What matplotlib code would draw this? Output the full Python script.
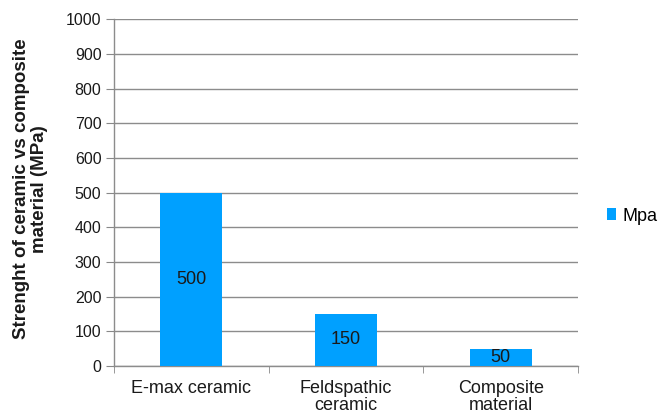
import matplotlib
matplotlib.use("Agg")
import matplotlib.pyplot as plt
from matplotlib.patches import Patch

categories = ["E-max ceramic", "Feldspathic\nceramic", "Composite\nmaterial"]
values = [500, 150, 50]
series_name = "Mpa"
yticks = list(range(0, 1001, 100))

plt.rcParams['font.family'] = ['Liberation Sans', 'DejaVu Sans']

fig = plt.figure(figsize=(6.7, 4.17), dpi=100)
ax = fig.add_axes([0.170, 0.1223, 0.693, 0.8317])

bar_color = '#00A0FF'
x = list(range(len(categories)))
bars = ax.bar(x, values, width=0.4, color=bar_color, zorder=3)
for xi, v in zip(x, values):
    ax.text(xi, v / 2, str(v), ha='center', va='center', fontsize=13, color='#1a1a1a', zorder=4)

ax.set_xlim(-0.5, len(categories) - 0.5)
ax.set_ylim(0, 1000)
ax.set_yticks(yticks)
ax.set_yticklabels([str(t) for t in yticks], fontsize=11.5, color='#1a1a1a')
ax.set_xticks(x)
ax.set_xticklabels(categories, fontsize=13, color='#1a1a1a', linespacing=1.0)
ax.set_xticks([i - 0.5 for i in range(len(categories) + 1)], minor=True)
ax.tick_params(axis='x', which='major', length=0, pad=10)
ax.tick_params(axis='x', which='minor', length=5, color='#888888', direction='out')
ax.tick_params(axis='y', length=6, color='#888888', direction='out', pad=3)

ax.yaxis.grid(True, color='#8c8c8c', linewidth=1.0, zorder=0)
ax.set_axisbelow(True)
for s in ['top', 'right']:
    ax.spines[s].set_visible(False)
for s in ['left', 'bottom']:
    ax.spines[s].set_color('#8c8c8c')
    ax.spines[s].set_linewidth(1.0)

ax.set_ylabel("Strenght of ceramic vs composite\nmaterial (MPa)", fontsize=13.5, fontweight='bold',
              color='#1a1a1a', linespacing=1.1, va='center', ha='center')
ax.yaxis.set_label_coords(-0.179, 0.51)

handle = Patch(facecolor=bar_color, edgecolor='none')
fig.legend([handle], [series_name], loc='center left', bbox_to_anchor=(0.906, 0.482),
           frameon=False, fontsize=13, handlelength=0.5, handleheight=0.6, handletextpad=0.35,
           borderpad=0, borderaxespad=0)

fig.savefig("out.png", dpi=100)
